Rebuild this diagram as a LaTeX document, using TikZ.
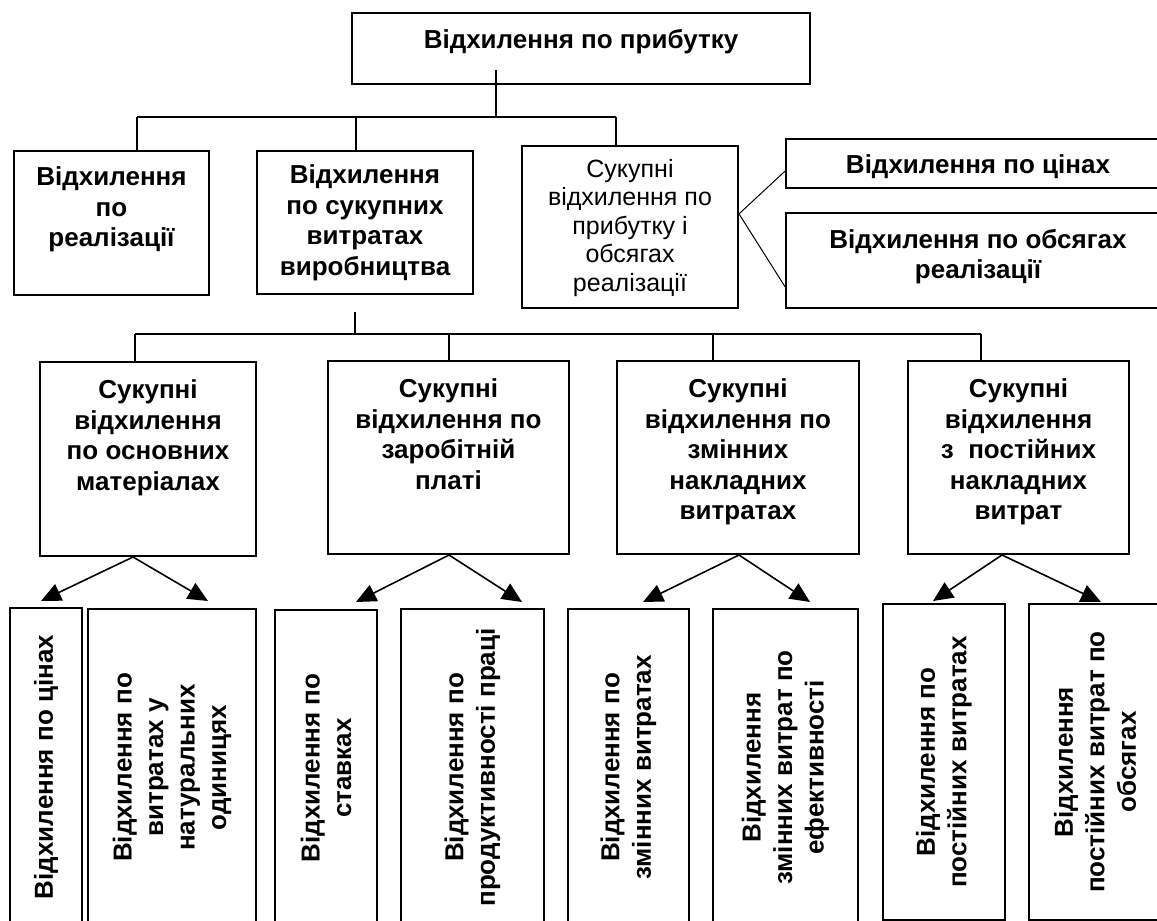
\documentclass[tikz,border=0pt]{standalone}
\usepackage{fontspec}
\setmainfont{Liberation Sans}
\usepackage{graphicx}
\usetikzlibrary{arrows.meta,calc}

\newcommand{\boxtext}[4]{\parbox[c][#2pt][t]{#1pt}{\centering\vspace*{#3pt}#4\par}}
\newcommand{\sidetext}[3]{\rotatebox{90}{\parbox[c][#1pt][c]{#2pt}{\centering\baselineskip=31.5pt #3\par}}}

\begin{document}
\begin{tikzpicture}[x=1pt, y=-1pt,
  box/.style={draw, line width=2pt, inner sep=0pt, anchor=north west, font=\fontsize{26}{30.5}\selectfont\bfseries},
  link/.style={line width=2pt},
  thinlink/.style={line width=1pt},
  arr/.style={line width=1.6pt, -{Triangle[length=20pt,width=18pt]}}]
  \fill[white] (0,0) rectangle (1157,921);
  \useasboundingbox (0,0) rectangle (1157,921);

  \node[box] (profit) at (351,12) {\boxtext{458}{71}{16}{Відхилення по прибутку}};

  \node[box] (sales) at (13,150) {\boxtext{195}{144}{16}{Відхилення\\по\\реалізації}};
  \node[box] (costs) at (256,150) {\boxtext{216}{143}{14}{Відхилення\\по сукупних\\витратах\\виробництва}};
  \node[box, font=\fontsize{25}{28.5}\selectfont] (volume) at (521,145) {\boxtext{216}{162}{13}{Сукупні\\відхилення по\\прибутку і\\обсягах\\реалізації}};
  \node[box] (prices) at (785,138) {\boxtext{384}{49}{16}{Відхилення по цінах}};
  \node[box] (amounts) at (785,212) {\boxtext{384}{95}{16}{Відхилення по обсягах\\реалізації}};

  \node[box] (mat) at (39,361) {\boxtext{216}{194}{18}{Сукупні\\відхилення\\по основних\\матеріалах}};
  \node[box] (wage) at (327,360) {\boxtext{241}{193}{18}{Сукупні\\відхилення по\\заробітній\\платі}};
  \node[box] (varoh) at (616,360) {\boxtext{242}{193}{18}{Сукупні\\відхилення по\\змінних\\накладних\\витратах}};
  \node[box] (fixoh) at (907,360) {\boxtext{221}{193}{18}{Сукупні\\відхилення\\з \ постійних\\накладних\\витрат}};

  \node[box] (matprice) at (9,607) {\sidetext{72}{318}{Відхилення по цінах}};
  \node[box] (matqty) at (87,608) {\sidetext{168}{317}{Відхилення по\\витратах у\\натуральних\\одиницях}};
  \node[box] (wrate) at (274,609) {\sidetext{102}{316}{Відхилення по\\ставках}};
  \node[box] (wprod) at (400,608) {\sidetext{143}{317}{Відхилення по\\продуктивності праці}};
  \node[box] (varspend) at (567,608) {\sidetext{121}{317}{Відхилення по\\змінних витратах}};
  \node[box] (vareff) at (712,608) {\sidetext{145}{317}{Відхилення\\змінних витрат по\\ефективності}};
  \node[box] (fixspend) at (882,603) {\sidetext{122}{316}{Відхилення по\\постійних витратах}};
  \node[box] (fixvol) at (1028,603) {\sidetext{132}{316}{Відхилення\\постійних витрат по\\обсягах}};

  \coordinate (stem) at (496,70);
  \coordinate (busL) at (137,117);
  \coordinate (busM) at (356,117);
  \coordinate (busR) at (616,117);
  \draw[link] (stem) -- (stem |- busL);
  \draw[link] (busL) -- (busR);
  \draw[link] (busL) -- (busL |- sales.north);
  \draw[link] (busM) -- (busM |- costs.north);
  \draw[link] (busR) -- (busR |- volume.north);

  \draw[thinlink] ($(volume.north east)!0.42!(volume.south east)$) -- ($(prices.north west)!0.65!(prices.south west)$);
  \draw[thinlink] ($(volume.north east)!0.42!(volume.south east)$) -- ($(amounts.north west)!0.77!(amounts.south west)$);

  \coordinate (stem2) at (355,312);
  \coordinate (bus2L) at (135,334);
  \coordinate (bus2B) at (449,334);
  \coordinate (bus2C) at (713,334);
  \coordinate (bus2R) at (981,334);
  \draw[link] (stem2) -- (stem2 |- bus2L);
  \draw[link] (bus2L) -- (bus2R);
  \draw[link] (bus2L) -- (bus2L |- mat.north);
  \draw[link] (bus2B) -- (bus2B |- wage.north);
  \draw[link] (bus2C) -- (bus2C |- varoh.north);
  \draw[link] (bus2R) -- (bus2R |- fixoh.north);

  \draw[arr] ($(mat.south west)+(94,0)$) -- ($(matprice.north)+(-5,-6)$);
  \draw[arr] ($(mat.south west)+(94,0)$) -- ($(matqty.north)+(36,-7)$);
  \draw[arr] ($(wage.south west)+(122,0)$) -- ($(wrate.north)+(30,-7)$);
  \draw[arr] ($(wage.south west)+(122,0)$) -- ($(wprod.north)+(49.5,-6)$);
  \draw[arr] ($(varoh.south west)+(123,0)$) -- ($(varspend.north)+(14.5,-6)$);
  \draw[arr] ($(varoh.south west)+(123,0)$) -- ($(vareff.north)+(24.5,-6)$);
  \draw[arr] ($(fixoh.south west)+(95,0)$) -- ($(fixspend.north)+(-11,-2)$);
  \draw[arr] ($(fixoh.south west)+(95,0)$) -- ($(fixvol.north)+(6,-1)$);
\end{tikzpicture}
\end{document}
